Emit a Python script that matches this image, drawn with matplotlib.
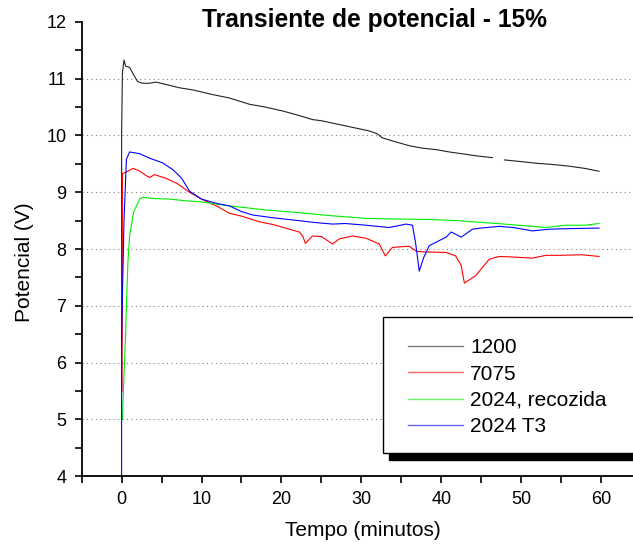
import matplotlib.pyplot as plt
from matplotlib.patches import Rectangle
import numpy as np

plt.rcParams['font.family'] = ['Liberation Sans', 'DejaVu Sans']

# 1200
t_1200 = [0, 0, 0.1, 0.3, 0.5, 1.0, 1.5, 2.0, 2.6, 3.5, 4.3, 5.5, 7.25, 9, 11.4, 13.5, 16, 18,
          20.2, 22, 23.9, 25, 27, 29, 31, 32, 32.6, 34, 36, 37.5, 39.4, 41, 43, 44.5, 46.4,
          47.1, 47.9, 50, 52, 53.9, 56, 58, 59.75]
v_1200 = [6.4, 10.0, 11.1, 11.33, 11.22, 11.2, 11.07, 10.95, 10.92, 10.92, 10.94, 10.9, 10.84,
          10.8, 10.72, 10.66, 10.55, 10.5, 10.43, 10.36, 10.28, 10.26, 10.2, 10.14, 10.08, 10.03,
          9.96, 9.9, 9.82, 9.78, 9.75, 9.71, 9.67, 9.64, 9.61, np.nan, 9.57, 9.54, 9.51, 9.49,
          9.46, 9.42, 9.37]

# 7075
t_7075 = [0.05, 0.08, 0.1, 0.5, 1.4, 2.2, 3.0, 3.5, 4.1, 5.5, 7, 8.5, 10, 12, 13.5, 15, 17.25,
          19, 21, 22.25, 22.7, 23, 23.9, 25, 26.4, 27.25, 28.9, 30.6, 32.25, 33, 33.9, 36, 36.9,
          38, 40.6, 41.8, 42.5, 42.9, 44.3, 46, 47.25, 49, 51.4, 53.1, 55, 57.6, 59.75]
v_7075 = [5.5, 7.0, 9.33, 9.35, 9.42, 9.38, 9.3, 9.26, 9.31, 9.25, 9.15, 9.0, 8.88, 8.75, 8.63,
          8.58, 8.48, 8.43, 8.35, 8.30, 8.22, 8.10, 8.23, 8.22, 8.09, 8.18, 8.23, 8.19, 8.09,
          7.88, 8.03, 8.05, 7.96, 7.95, 7.94, 7.88, 7.71, 7.40, 7.53, 7.82, 7.87, 7.86, 7.84,
          7.89, 7.89, 7.9, 7.87]

# 2024, recozida
t_2024r = [0.1, 0.3, 0.5, 0.6, 0.8, 1.0, 1.5, 2.25, 2.6, 4, 6, 8.1, 10, 13.5, 18, 22.25, 26,
           30.6, 34, 38.9, 42, 43.9, 47, 51.4, 53, 55.6, 58, 59.75]
v_2024r = [5.0, 5.8, 6.5, 7.0, 7.8, 8.23, 8.65, 8.88, 8.91, 8.89, 8.88, 8.85, 8.83, 8.76, 8.69,
           8.64, 8.59, 8.54, 8.53, 8.52, 8.50, 8.48, 8.45, 8.40, 8.38, 8.42, 8.42, 8.45]

# 2024 T3
t_2024t3 = [0.0, 0.0, 0.3, 0.6, 1.0, 2.25, 3.5, 5.1, 6.4, 7.5, 8.5, 10, 12, 13.5, 15, 16.4, 19,
            22.25, 24, 26.4, 28, 30.6, 32, 33.5, 35.6, 36.4, 36.8, 37.25, 37.8, 38.5, 40.6,
            41.25, 42.5, 43.9, 45, 47.25, 49, 51.4, 53.5, 56, 59.75]
v_2024t3 = [4.0, 6.5, 8.5, 9.58, 9.71, 9.68, 9.6, 9.52, 9.40, 9.25, 9.02, 8.88, 8.8, 8.76, 8.66,
            8.6, 8.55, 8.50, 8.47, 8.44, 8.45, 8.42, 8.40, 8.38, 8.44, 8.42, 8.1, 7.61, 7.85,
            8.06, 8.21, 8.30, 8.21, 8.35, 8.37, 8.40, 8.38, 8.32, 8.35, 8.36, 8.37]

fig = plt.figure(figsize=(6.33, 5.48), dpi=100)
ax = fig.add_axes([0.129, 0.131, 0.871, 0.829])

lw = 0.8
ax.plot(t_1200, v_1200, color='#222222', lw=lw, label='1200')
ax.plot(t_7075, v_7075, color='red', lw=lw, label='7075')
ax.plot(t_2024r, v_2024r, color='#00ee00', lw=lw, label='2024, recozida')
ax.plot(t_2024t3, v_2024t3, color='blue', lw=lw, label='2024 T3')

ax.set_xlim(-5, 64)
ax.set_ylim(4, 12)
ax.set_xticks([0, 10, 20, 30, 40, 50, 60])
ax.set_xticks(np.arange(-5, 64, 5), minor=True)
ax.set_yticks(np.arange(4, 13, 1))
ax.set_yticks(np.arange(4, 12.1, 0.5), minor=True)

ax.spines['top'].set_visible(False)
ax.spines['right'].set_visible(False)
ax.spines['left'].set_linewidth(1.3)
ax.spines['bottom'].set_linewidth(1.3)
ax.tick_params(which='both', direction='out', length=5, width=1.2, labelsize=13, pad=6)

ax.grid(axis='y', ls=(0, (1, 3)), color='gray', lw=0.8)
ax.get_ygridlines()[-1].set_visible(False)

fig.text(0.592, 0.963, 'Transiente de potencial - 15%', fontsize=17.7, fontweight='bold',
         ha='center', va='center')
fig.text(0.573, 1 - 530 / 548, 'Tempo (minutos)', fontsize=15, ha='center', va='center')
fig.text(24 / 633, 1 - 262 / 548, 'Potencial (V)', fontsize=15, ha='center', va='center',
         rotation=90)

# legend frame with black shadow
ax.add_patch(Rectangle((389 / 633, 88 / 548), 0.5, 136 / 548, transform=fig.transFigure,
                       facecolor='black', edgecolor='black', zorder=5, clip_on=False))
ax.add_patch(Rectangle((383 / 633, 95 / 548), 0.5, 136 / 548, transform=fig.transFigure,
                       facecolor='white', edgecolor='black', lw=1, zorder=6, clip_on=False))

leg = ax.legend(loc='upper left', bbox_to_anchor=(408 / 633, 1 - 338 / 548),
                bbox_transform=fig.transFigure, frameon=False, fontsize=15, borderpad=0,
                borderaxespad=0, handlelength=2.64, handletextpad=0.35, labelspacing=0.36)
leg.set_zorder(7)
for line in leg.get_lines():
    line.set_linewidth(1.0)
    line.set_alpha(0.6)

fig.savefig('out.png', dpi=100)
